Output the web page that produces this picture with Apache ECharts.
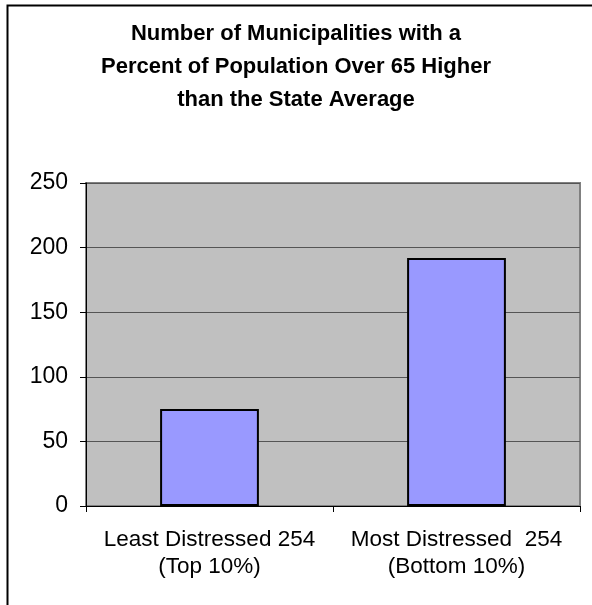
<!DOCTYPE html>
<html>
<head>
<meta charset="utf-8">
<script src="https://cdn.jsdelivr.net/npm/echarts@6/dist/echarts.min.js"></script>
<style>
  html, body { margin: 0; padding: 0; background: #fff; }
  #main { width: 592px; height: 605px; }
</style>
</head>
<body>
<div id="main"></div>
<script>
var categories = ['Least Distressed 254\n(Top 10%)', 'Most Distressed  254\n(Bottom 10%)'];
var counts = [75, 192];
var yTicks = [0, 50, 100, 150, 200, 250];

var myChart = echarts.init(document.getElementById('main'));

var option = {
    backgroundColor: '#ffffff',
    animation: false,
    title: {
        text: 'Number of Municipalities with a\nPercent of Population Over 65 Higher\nthan the State Average',
        left: 291,
        textAlign: 'center',
        top: 12,
        textStyle: {
            fontFamily: 'Liberation Sans, Arial, sans-serif',
            fontWeight: 'bold',
            fontSize: 22,
            lineHeight: 33,
            color: '#000'
        }
    },
    graphic: [
        { // outer frame (left and top edges visible)
            type: 'rect',
            shape: { x: 7.5, y: 5.5, width: 800, height: 800 },
            style: { fill: 'none', stroke: '#000', lineWidth: 2 },
            silent: true
        }
    ],
    grid: {
        left: 86,
        right: 12,
        top: 183,
        bottom: 99,
        show: true,
        backgroundColor: '#c0c0c0',
        borderColor: '#808080',
        borderWidth: 2
    },
    xAxis: {
        type: 'category',
        data: categories,
        axisLine: { show: true, lineStyle: { color: '#000', width: 1 } },
        axisTick: { show: true, interval: 0, length: 6, lineStyle: { color: '#000' } },
        axisLabel: {
            interval: 0,
            hideOverlap: false,
            margin: 20,
            fontFamily: 'Liberation Sans, Arial, sans-serif',
            fontSize: 22.5,
            lineHeight: 27,
            color: '#000'
        }
    },
    yAxis: {
        type: 'value',
        min: yTicks[0],
        max: yTicks[yTicks.length - 1],
        interval: 50,
        axisLine: { show: true, lineStyle: { color: '#000', width: 1 } },
        axisTick: { show: true, length: 6, lineStyle: { color: '#000' } },
        splitLine: { show: true, lineStyle: { color: '#555', width: 1 } },
        axisLabel: {
            margin: 18,
            fontFamily: 'Liberation Sans, Arial, sans-serif',
            fontSize: 23,
            color: '#000'
        }
    },
    series: [
        {
            type: 'bar',
            data: counts,
            barWidth: '40%',
            itemStyle: {
                color: '#9999ff',
                borderColor: '#000',
                borderWidth: 2
            }
        }
    ]
};

myChart.setOption(option);
</script>
</body>
</html>
